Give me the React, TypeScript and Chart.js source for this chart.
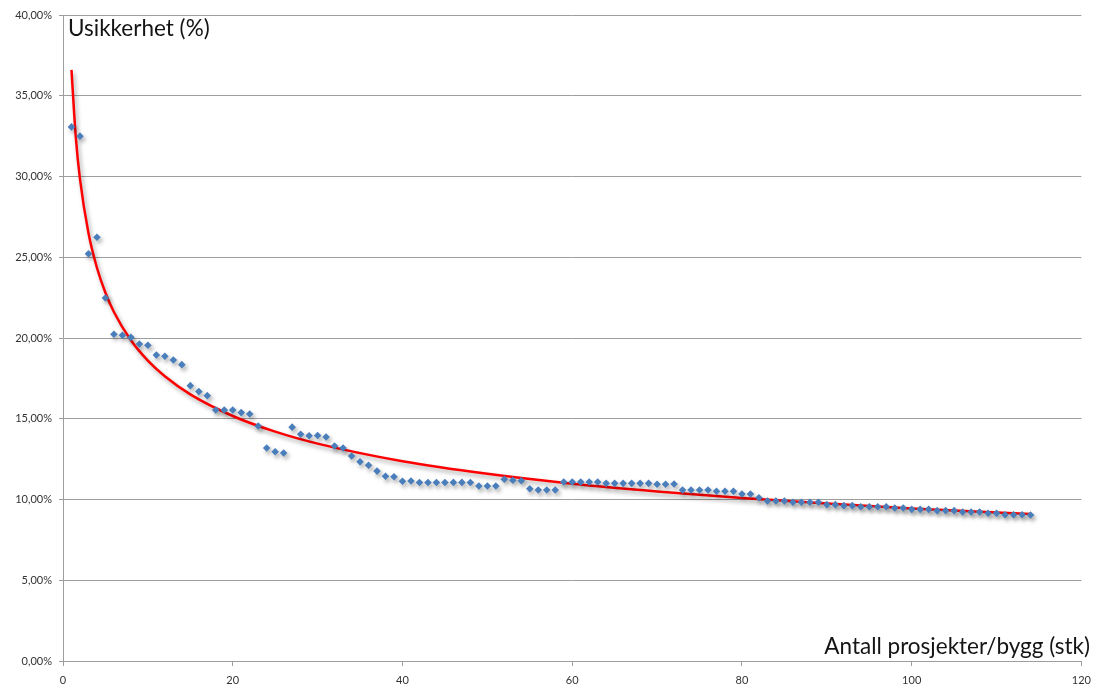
import { useEffect, useRef } from 'react';
import { Chart, registerables } from 'chart.js';

Chart.register(...registerables);

// Antall prosjekter/bygg (x) and Usikkerhet in % (y)
const projectCounts = [
  1, 2, 3, 4, 5, 6, 7, 8, 9, 10, 11, 12, 13, 14, 15, 16, 17, 18, 19, 20,
  21, 22, 23, 24, 25, 26, 27, 28, 29, 30, 31, 32, 33, 34, 35, 36, 37, 38, 39, 40,
  41, 42, 43, 44, 45, 46, 47, 48, 49, 50, 51, 52, 53, 54, 55, 56, 57, 58, 59, 60,
  61, 62, 63, 64, 65, 66, 67, 68, 69, 70, 71, 72, 73, 74, 75, 76, 77, 78, 79, 80,
  81, 82, 83, 84, 85, 86, 87, 88, 89, 90, 91, 92, 93, 94, 95, 96, 97, 98, 99, 100,
  101, 102, 103, 104, 105, 106, 107, 108, 109, 110, 111, 112, 113, 114,
];

const uncertainty = [
  33.07, 32.5, 25.22, 26.24, 22.48, 20.23, 20.17, 20.04, 19.63, 19.55,
  18.95, 18.87, 18.64, 18.35, 17.05, 16.68, 16.43, 15.54, 15.54, 15.54,
  15.38, 15.29, 14.55, 13.19, 12.96, 12.88, 14.48, 14.04, 13.95, 13.96,
  13.87, 13.31, 13.19, 12.69, 12.34, 12.12, 11.76, 11.44, 11.41, 11.13,
  11.15, 11.05, 11.05, 11.05, 11.05, 11.06, 11.06, 11.05, 10.84, 10.84,
  10.84, 11.25, 11.19, 11.16, 10.67, 10.59, 10.59, 10.59, 11.08, 11.08,
  11.08, 11.08, 11.08, 11.0, 11.0, 11.0, 11.0, 11.0, 11.0, 10.94,
  10.94, 10.96, 10.59, 10.59, 10.59, 10.59, 10.51, 10.51, 10.51, 10.34,
  10.34, 10.11, 9.91, 9.91, 9.91, 9.83, 9.83, 9.83, 9.83, 9.68,
  9.68, 9.62, 9.62, 9.55, 9.55, 9.55, 9.55, 9.47, 9.47, 9.39,
  9.39, 9.39, 9.31, 9.31, 9.31, 9.23, 9.23, 9.23, 9.15, 9.15,
  9.06, 9.06, 9.06, 9.04,
];

// Trend line
const trendX = [1, 1.5, 2, 3, 4, 5, 6, 8, 10, 12, 15, 20, 25, 30, 40, 50, 60, 70, 80, 90, 100, 114];
const trendY = [36.6, 32.49, 29.85, 26.5, 24.35, 22.8, 21.61, 19.86, 18.6, 17.63, 16.51, 15.17, 14.2, 13.46, 12.37, 11.59, 10.98, 10.5, 10.09, 9.75, 9.45, 9.1];

const xTicks = [0, 20, 40, 60, 80, 100, 120];
const yTicks = [0, 5, 10, 15, 20, 25, 30, 35, 40];

const yTitle = 'Usikkerhet (%)';
const xTitle = 'Antall prosjekter/bygg (stk)';

const shadowPlugin = {
  id: 'shadowPlugin',
  beforeDatasetDraw(chart: any) {
    const ctx = chart.ctx;
    ctx.save();
    ctx.shadowColor = 'rgba(0,0,0,0.35)';
    ctx.shadowBlur = 4;
    ctx.shadowOffsetX = 2;
    ctx.shadowOffsetY = 3;
  },
  afterDatasetDraw(chart: any) {
    chart.ctx.restore();
  },
};

const titlePlugin = {
  id: 'titlePlugin',
  afterDraw(chart: any) {
    const ctx = chart.ctx;
    ctx.save();
    ctx.fillStyle = '#141414';
    ctx.font = '22.5px Lato';
    ctx.textBaseline = 'alphabetic';
    ctx.textAlign = 'left';
    ctx.fillText(yTitle, 68, 36);
    ctx.textAlign = 'right';
    ctx.fillText(xTitle, 1090, 654);
    ctx.restore();
  },
};

export default function App() {
  const ref = useRef<HTMLCanvasElement | null>(null);

  useEffect(() => {
    if (!ref.current) return;
    const gridColor = '#9e9e9e';
    const chart = new Chart(ref.current, {
      type: 'scatter',
      data: {
        datasets: [
          {
            label: 'Usikkerhet',
            data: projectCounts.map((x, i) => ({ x, y: uncertainty[i] })),
            pointStyle: 'rectRot',
            pointRadius: 3.8,
            backgroundColor: '#4a7ebb',
            borderColor: '#4a7ebb',
            borderWidth: 0,
          },
          {
            label: 'Trend',
            data: trendX.map((x, i) => ({ x, y: trendY[i] })),
            showLine: true,
            pointRadius: 0,
            borderColor: '#ff0000',
            borderWidth: 2.5,
            cubicInterpolationMode: 'monotone',
            fill: false,
          } as any,
        ],
      },
      options: {
        animation: false,
        responsive: false,
        layout: { padding: { top: 15, right: 16, left: 0, bottom: 0 } },
        plugins: {
          legend: { display: false },
          tooltip: { enabled: false },
        },
        scales: {
          x: {
            type: 'linear',
            min: 0,
            max: 120,
            afterBuildTicks: (s: any) => {
              s.ticks = xTicks.map((v) => ({ value: v }));
            },
            afterFit: (s: any) => {
              s.height = 28;
            },
            grid: {
              drawOnChartArea: false,
              drawTicks: true,
              tickLength: 5,
              color: gridColor,
            },
            border: { display: true, color: gridColor },
            ticks: {
              color: '#333333',
              font: { family: 'Lato', size: 11 },
              padding: 8,
              maxRotation: 0,
            },
          },
          y: {
            type: 'linear',
            min: 0,
            max: 40,
            afterBuildTicks: (s: any) => {
              s.ticks = yTicks.map((v) => ({ value: v }));
            },
            afterFit: (s: any) => {
              s.width = 63;
            },
            grid: {
              drawOnChartArea: true,
              drawTicks: true,
              tickLength: 4,
              color: gridColor,
            },
            border: { display: true, color: gridColor },
            ticks: {
              color: '#333333',
              font: { family: 'Lato', size: 11 },
              padding: 7,
              callback: (v: any) => Number(v).toFixed(2).replace('.', ',') + '%',
            },
          },
        },
      },
      plugins: [shadowPlugin, titlePlugin],
    });
    return () => chart.destroy();
  }, []);

  return (
    <div style={{ position: 'absolute', left: 0, top: 0, width: 1099, height: 689, background: '#fff' }}>
      <canvas ref={ref} width={1099} height={689} style={{ display: 'block' }} />
    </div>
  );
}
